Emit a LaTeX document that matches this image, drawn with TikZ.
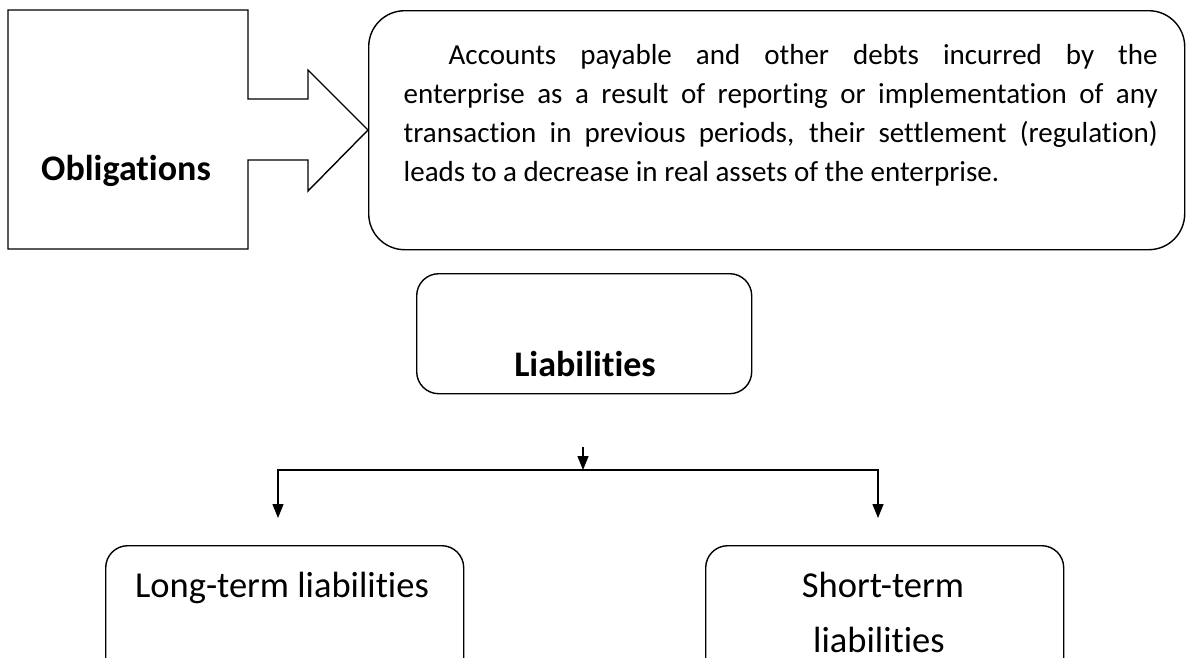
\documentclass[tikz,border=0pt]{standalone}
\usepackage{fontspec}
\setmainfont{Carlito}[Ligatures={NoCommon}]
\usetikzlibrary{arrows.meta}
\begin{document}
\begin{tikzpicture}[x=1pt,y=-1pt,
  line width=1.4pt,
  rbox/.style={draw,rounded corners=#1,inner sep=0pt},
  arr/.style={-{Triangle[width=11pt,length=14pt]}},
  big/.style={font=\fontsize{36.5}{40}\selectfont,inner sep=0pt,anchor=base},
  bigbold/.style={font=\fontsize{36}{40}\selectfont\bfseries,inner sep=0pt,anchor=base}]
\useasboundingbox (0,0) rectangle (1191,657);
\clip (0,0) rectangle (1191,657);

% block arrow carrying the term
\draw (8,10) -- (248,10) -- (248,99) -- (308,99) -- (308,70) -- (368,130)
  -- (308,191) -- (308,160) -- (248,160) -- (248,249) -- (8,249) -- cycle;
\node[bigbold] (obl) at (126,180) {Obligations};

% definition box
\node[rbox=36pt,minimum width=816pt,minimum height=239pt,anchor=north west] (def) at (368,10) {};
\node[inner sep=0pt,anchor=base west] (deftext) at (403,64)
  {\parbox[t]{754pt}{\setlength{\parindent}{45pt}\hyphenpenalty=10000\exhyphenpenalty=10000
   \fontsize{29}{39}\selectfont
   Accounts payable and other debts incurred by the\linebreak
   enterprise as a result of reporting or implementation of any\linebreak
   transaction in previous periods, their settlement (regulation)\linebreak
   leads to a decrease in real assets of the enterprise.}};

% central term
\node[rbox=22pt,minimum width=335pt,minimum height=120pt,anchor=north west] (liab) at (416,273) {};
\node[bigbold] (liabtext) at (585,376) {Liabilities};

% branching connectors
\coordinate (top) at (583,447);
\coordinate (split) at (583,470);
\coordinate (lend) at (278,518);
\coordinate (rend) at (878,518);
\draw[arr] (top) -- (split);
\draw[arr] (split) -| (lend);
\draw[arr] (split) -| (rend);

% the two kinds
\node[rbox=22pt,minimum width=358pt,minimum height=160pt,anchor=north west] (long) at (105,545) {};
\node[big] (longtext) at (282,597) {Long-term liabilities};
\node[rbox=22pt,minimum width=358pt,minimum height=160pt,anchor=north west] (short) at (705,545) {};
\node[big] (shorttext1) at (883,597) {Short-term};
\node[big] (shorttext2) at (879,652) {liabilities};
\end{tikzpicture}
\end{document}
